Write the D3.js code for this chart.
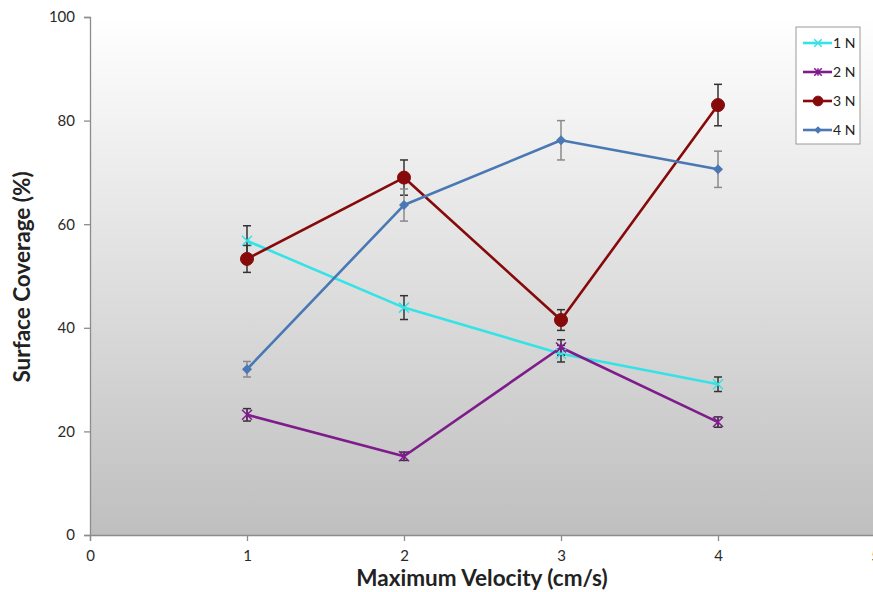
<!DOCTYPE html>
<html>
<head>
<meta charset="utf-8">
<script src="https://cdn.jsdelivr.net/npm/d3@7"></script>
<style>
  html, body { margin: 0; padding: 0; background: #ffffff; }
  svg { display: block; }
</style>
</head>
<body>
<svg id="chart" width="873" height="592"></svg>
<script>
// Surface coverage vs. maximum velocity, one series per applied load
const velocities = [1, 2, 3, 4];
const seriesNames = ["1 N", "2 N", "3 N", "4 N"];
const coverage1N = [56.8, 43.9, 35.0, 29.1];
const error1N    = [2.9, 2.3, 1.6, 1.4];
const coverage2N = [23.2, 15.2, 36.2, 21.8];
const error2N    = [1.2, 0.8, 1.5, 1.0];
const coverage3N = [53.3, 69.0, 41.5, 83.0];
const error3N    = [2.6, 3.4, 2.0, 4.0];
const coverage4N = [32.0, 63.7, 76.2, 70.6];
const error4N    = [1.5, 3.1, 3.8, 3.5];
const xTicks = [0, 1, 2, 3, 4, 5];
const yTicks = [0, 20, 40, 60, 80, 100];

const series = [
  { name: seriesNames[0], values: coverage1N, errors: error1N, color: "#35e3e6", marker: "x",        errColor: "#333" },
  { name: seriesNames[1], values: coverage2N, errors: error2N, color: "#7e1c8c", marker: "asterisk", errColor: "#333" },
  { name: seriesNames[2], values: coverage3N, errors: error3N, color: "#860a0a", marker: "circle",   errColor: "#333" },
  { name: seriesNames[3], values: coverage4N, errors: error4N, color: "#4a78b4", marker: "diamond",  errColor: "#8a8a8a" }
];

const svg = d3.select("#chart");
const plot = { left: 90, right: 875, top: 17, bottom: 535 };

const x = d3.scaleLinear().domain([0, 5]).range([plot.left, plot.right]);
const y = d3.scaleLinear().domain([0, 100]).range([plot.bottom, plot.top]);

// plot area: vertical white-to-grey gradient
const defs = svg.append("defs");
const grad = defs.append("linearGradient")
  .attr("id", "plotBg").attr("x1", 0).attr("y1", 0).attr("x2", 0).attr("y2", 1);
grad.append("stop").attr("offset", "0%").attr("stop-color", "#ffffff");
grad.append("stop").attr("offset", "100%").attr("stop-color", "#bfbfbf");

svg.append("rect")
  .attr("x", plot.left).attr("y", plot.top)
  .attr("width", plot.right - plot.left).attr("height", plot.bottom - plot.top)
  .attr("fill", "url(#plotBg)");

const fontFamily = "Lato, 'Open Sans', sans-serif";

// axes
const xAxis = svg.append("g")
  .attr("transform", `translate(0,${plot.bottom})`)
  .call(d3.axisBottom(x).tickValues(xTicks).tickSize(6).tickPadding(9).tickFormat(d3.format("d")));
const yAxis = svg.append("g")
  .attr("transform", `translate(${plot.left},0)`)
  .call(d3.axisLeft(y).tickValues(yTicks).tickSize(6).tickPadding(9).tickFormat(d3.format("d")));

[xAxis, yAxis].forEach(ax => {
  ax.select(".domain").attr("stroke", "#8c8c8c").attr("stroke-width", 1.3);
  ax.selectAll(".tick line").attr("stroke", "#8c8c8c").attr("stroke-width", 1.3);
  ax.selectAll(".tick text")
    .attr("fill", "#2a2a2a").style("font-family", fontFamily).style("font-size", "15px");
});

// axis titles
svg.append("text")
  .attr("x", 482).attr("y", 586)
  .attr("text-anchor", "middle")
  .style("font-family", fontFamily).style("font-size", "22.5px").style("font-weight", "bold")
  .attr("fill", "#222")
  .text("Maximum Velocity (cm/s)");

svg.append("text")
  .attr("transform", `translate(30,277) rotate(-90)`)
  .attr("text-anchor", "middle")
  .style("font-family", fontFamily).style("font-size", "22.5px").style("font-weight", "bold")
  .attr("fill", "#222")
  .text("Surface Coverage (%)");

const line = d3.line().x((d, i) => x(velocities[i])).y(d => y(d));

// series lines
series.forEach(s => {
  svg.append("path")
    .datum(s.values)
    .attr("d", line)
    .attr("fill", "none")
    .attr("stroke", s.color)
    .attr("stroke-width", 2.6)
    .attr("stroke-linejoin", "round");
});

// error bars
series.forEach(s => {
  const g = svg.append("g").attr("stroke", s.errColor).attr("stroke-width", 1.5);
  s.values.forEach((v, i) => {
    const cx = x(velocities[i]);
    const top = y(v + s.errors[i]);
    const bot = y(v - s.errors[i]);
    g.append("line").attr("x1", cx).attr("x2", cx).attr("y1", top).attr("y2", bot);
    g.append("line").attr("x1", cx - 4).attr("x2", cx + 4).attr("y1", top).attr("y2", top);
    g.append("line").attr("x1", cx - 4).attr("x2", cx + 4).attr("y1", bot).attr("y2", bot);
  });
});

function drawMarker(g, type, cx, cy, color, scale) {
  const k = scale || 1;
  if (type === "circle") {
    g.append("circle").attr("cx", cx).attr("cy", cy).attr("r", 6.5 * k)
      .attr("fill", color).attr("stroke", color);
  } else if (type === "diamond") {
    const r = 5 * k;
    g.append("path")
      .attr("d", `M${cx},${cy - r}L${cx + r},${cy}L${cx},${cy + r}L${cx - r},${cy}Z`)
      .attr("fill", color);
  } else if (type === "x") {
    const r = 5 * k;
    g.append("path")
      .attr("d", `M${cx - r},${cy - r}L${cx + r},${cy + r}M${cx - r},${cy + r}L${cx + r},${cy - r}`)
      .attr("stroke", color).attr("stroke-width", 1.5).attr("fill", "none");
  } else if (type === "asterisk") {
    const r = 5 * k;
    g.append("path")
      .attr("d", `M${cx - r},${cy - r}L${cx + r},${cy + r}M${cx - r},${cy + r}L${cx + r},${cy - r}M${cx},${cy - r}L${cx},${cy + r}`)
      .attr("stroke", color).attr("stroke-width", 1.5).attr("fill", "none");
  }
}

// markers
series.forEach(s => {
  const g = svg.append("g");
  s.values.forEach((v, i) => drawMarker(g, s.marker, x(velocities[i]), y(v), s.color));
});

// legend
const legend = svg.append("g").attr("transform", "translate(796,27)");
legend.append("rect")
  .attr("width", 64).attr("height", 117)
  .attr("fill", "#ffffff").attr("stroke", "#9a9a9a").attr("stroke-width", 1);
series.forEach((s, i) => {
  const ly = 16 + i * 29;
  legend.append("line")
    .attr("x1", 7).attr("x2", 36).attr("y1", ly).attr("y2", ly)
    .attr("stroke", s.color).attr("stroke-width", 2.6);
  drawMarker(legend, s.marker, 22, ly, s.color, 0.75);
  legend.append("text")
    .attr("x", 37).attr("y", ly + 5)
    .style("font-family", fontFamily).style("font-size", "14px")
    .attr("fill", "#222")
    .text(s.name);
});
</script>
</body>
</html>
